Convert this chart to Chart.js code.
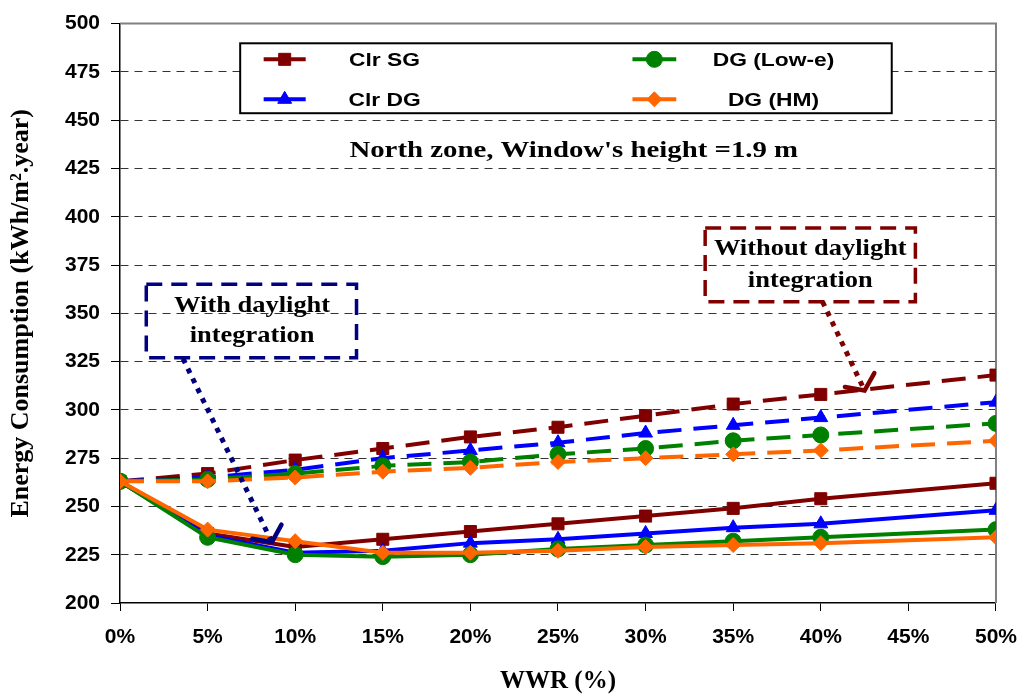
<!DOCTYPE html>
<html>
<head>
<meta charset="utf-8">
<script src="https://cdn.jsdelivr.net/npm/chart.js@4/dist/chart.umd.min.js"></script>
<style>
  html, body { margin: 0; padding: 0; background: #fff; }
  #wrap { width: 1031px; height: 697px; position: relative; }
</style>
</head>
<body>
<div id="wrap"><canvas id="grafico"></canvas></div>
<script>
// WWR values that carry a marker
const wwr = [0, 5, 10, 15, 20, 25, 30, 35, 40, 50];

// with daylight integration (solid lines)
const clrSgDl = [263, 236, 229, 233, 237, 241, 245, 249, 254, 262];
const clrDgDl = [263, 235, 226, 227, 231, 233, 236, 239, 241, 248];
const lowEDl  = [263, 234, 225, 224, 225, 228, 230, 232, 234, 238];
const hmDl    = [263, 238, 232, 226, 226, 227, 229, 230, 231, 234];

// without daylight integration (dashed lines)
const clrSgNoDl = [263, 267, 274, 280, 286, 291, 297, 303, 308, 318];
const clrDgNoDl = [263, 265, 269, 275, 279, 283, 288, 292, 296, 304];
const lowENoDl  = [263, 264, 267, 271, 273, 277, 280, 284, 287, 293];
const hmNoDl    = [263, 263, 265, 268, 270, 273, 275, 277, 279, 284];

const seriesNames = ['Clr SG', 'Clr DG', 'DG (Low-e)', 'DG (HM)'];
const yTicks = [200, 225, 250, 275, 300, 325, 350, 375, 400, 425, 450, 475, 500];

const cores = ['#800000', '#0000ff', '#008000', '#ff6600'];
const estilos = ['rect', 'triangle', 'circle', 'rectRot'];
const raios = [8.5, 8, 8, 7.5];

function pontos(valores) {
    return wwr.map((x, i) => ({ x: x, y: valores[i] }));
}

function serie(nome, valores, k, tracejado) {
    return {
        label: nome,
        data: pontos(valores),
        borderColor: cores[k],
        backgroundColor: cores[k],
        borderWidth: 4,
        borderDash: tracejado ? [24, 12] : [],
        pointStyle: estilos[k],
        pointRadius: raios[k],
        pointBorderWidth: 1,
        pointBorderColor: cores[k],
        tension: 0,
        order: 3 - k
    };
}

const datasets = [
    serie(seriesNames[0], clrSgNoDl, 0, true),
    serie(seriesNames[1], clrDgNoDl, 1, true),
    serie(seriesNames[2], lowENoDl, 2, true),
    serie(seriesNames[3], hmNoDl, 3, true),
    serie(seriesNames[0], clrSgDl, 0, false),
    serie(seriesNames[1], clrDgDl, 1, false),
    serie(seriesNames[2], lowEDl, 2, false),
    serie(seriesNames[3], hmDl, 3, false)
];

// texto esticado na horizontal (o original parece esticado)
function texto(ctx, s, x, y, fonte, cor, sx) {
    ctx.save();
    ctx.translate(x, y);
    ctx.scale(sx, 1);
    ctx.font = fonte;
    ctx.fillStyle = cor;
    ctx.textAlign = 'center';
    ctx.textBaseline = 'middle';
    ctx.fillText(s, 0, 0);
    ctx.restore();
}

function seta(ctx, x1, y1, x2, y2, cor) {
    ctx.save();
    ctx.strokeStyle = cor;
    ctx.lineWidth = 5;
    ctx.setLineDash([5, 6]);
    ctx.beginPath();
    ctx.moveTo(x1, y1);
    ctx.lineTo(x2, y2);
    ctx.stroke();
    const ang = Math.atan2(y1 - y2, x1 - x2);
    ctx.setLineDash([]);
    ctx.lineWidth = 4.5;
    ctx.lineCap = 'round';
    ctx.beginPath();
    ctx.moveTo(x2 + Math.cos(ang - 0.95) * 20, y2 + Math.sin(ang - 0.95) * 20);
    ctx.lineTo(x2, y2);
    ctx.lineTo(x2 + Math.cos(ang + 0.95) * 20, y2 + Math.sin(ang + 0.95) * 20);
    ctx.stroke();
    ctx.restore();
}

function caixa(ctx, x1, y1, x2, y2, cor) {
    ctx.save();
    ctx.strokeStyle = cor;
    ctx.lineWidth = 3.5;
    ctx.setLineDash([16, 9]);
    ctx.strokeRect(x1, y1, x2 - x1, y2 - y1);
    ctx.restore();
}

const desenhos = {
    id: 'desenhos',
    beforeDatasetsDraw(chart) {
        const a = chart.chartArea;
        const ctx = chart.ctx;
        ctx.save();
        ctx.strokeStyle = '#808080';
        ctx.lineWidth = 2;
        ctx.beginPath();
        ctx.moveTo(a.left, a.top);
        ctx.lineTo(a.right, a.top);
        ctx.lineTo(a.right, a.bottom);
        ctx.stroke();
        ctx.restore();
    },
    afterDraw(chart) {
        const ctx = chart.ctx;
        const sx = chart.scales.x, sy = chart.scales.y;
        const px = v => sx.getPixelForValue(v);
        const py = v => sy.getPixelForValue(v);
        const serif = 'bold 23px "Liberation Serif", "Times New Roman", serif';
        const sans = 'bold 19px "Liberation Sans", Arial, sans-serif';

        // legenda
        ctx.save();
        ctx.fillStyle = '#fff';
        ctx.fillRect(px(6.86), py(489.8), px(44.05) - px(6.86), py(453.6) - py(489.8));
        ctx.strokeStyle = '#000';
        ctx.lineWidth = 2;
        ctx.strokeRect(px(6.86), py(489.8), px(44.05) - px(6.86), py(453.6) - py(489.8));
        ctx.restore();
        const leg = [
            { k: 0, x1: 8.2, x2: 10.6, xt: 15.1, y: 481.5 },
            { k: 1, x1: 8.2, x2: 10.6, xt: 15.1, y: 460.8 },
            { k: 2, x1: 29.25, x2: 31.75, xt: 37.3, y: 481.5 },
            { k: 3, x1: 29.25, x2: 31.75, xt: 37.3, y: 460.8 }
        ];
        leg.forEach(e => {
            const y = py(e.y);
            ctx.save();
            ctx.strokeStyle = cores[e.k];
            ctx.fillStyle = cores[e.k];
            ctx.lineWidth = 4;
            ctx.beginPath();
            ctx.moveTo(px(e.x1), y);
            ctx.lineTo(px(e.x2), y);
            ctx.stroke();
            ctx.lineWidth = 1;
            Chart.helpers.drawPoint(ctx, { pointStyle: estilos[e.k], radius: raios[e.k], rotation: 0, borderWidth: 1 },
                (px(e.x1) + px(e.x2)) / 2, y);
            ctx.restore();
            texto(ctx, seriesNames[e.k], px(e.xt), y + 1, sans, '#000', 1.2);
        });

        texto(ctx, "North zone, Window's height =1.9 m", px(25.9), py(434),
            'bold 24px "Liberation Serif", "Times New Roman", serif', '#000', 1.2);

        // com iluminação natural
        caixa(ctx, px(1.5), py(365), px(13.5), py(327), '#000080');
        texto(ctx, 'With daylight', px(7.54), py(353.9), serif, '#000', 1.15);
        texto(ctx, 'integration', px(7.54), py(338.4), serif, '#000', 1.15);
        seta(ctx, px(3.6), py(326.5), px(8.67), py(231.5), '#000080');

        // sem iluminação natural
        caixa(ctx, px(33.4), py(394.2), px(45.4), py(356), '#800000');
        texto(ctx, 'Without daylight', px(39.4), py(383.4), serif, '#000', 1.15);
        texto(ctx, 'integration', px(39.4), py(366.8), serif, '#000', 1.15);
        seta(ctx, px(40.1), py(356), px(42.5), py(310), '#800000');
    }
};

const ctxGrafico = document.getElementById('grafico').getContext('2d');
const grafico = new Chart(ctxGrafico, {
    type: 'line',
    data: { datasets: datasets },
    plugins: [desenhos],
    options: {
        responsive: true,
        maintainAspectRatio: false,
        animation: false,
        layout: { padding: { top: 22, right: 29, left: 0, bottom: 0 } },
        plugins: {
            legend: { display: false },
            tooltip: { enabled: false }
        },
        scales: {
            x: {
                type: 'linear',
                min: 0,
                max: 50,
                ticks: {
                    stepSize: 5,
                    callback: v => v + '%',
                    color: '#000',
                    padding: 14,
                    maxRotation: 0,
                    font: { family: '"Liberation Sans", Arial, sans-serif', size: 21, weight: 'bold' }
                },
                grid: { drawOnChartArea: false, drawTicks: true, tickLength: 8, color: '#000' },
                border: { display: true, color: '#000', width: 1.5 },
                title: {
                    display: true,
                    text: 'WWR (%)',
                    color: '#000',
                    padding: { top: 0, bottom: 0 },
                    font: { family: '"Liberation Serif", "Times New Roman", serif', size: 25, weight: 'bold' }
                },
                afterFit: s => { s.height = 94; }
            },
            y: {
                min: 200,
                max: 500,
                afterBuildTicks: s => { s.ticks = yTicks.map(v => ({ value: v })); },
                ticks: {
                    color: '#000',
                    padding: 11,
                    font: { family: '"Liberation Sans", Arial, sans-serif', size: 21, weight: 'bold' }
                },
                grid: {
                    color: c => (c.tick && (c.tick.value === 200 || c.tick.value === 500)) ? 'rgba(0,0,0,0)' : '#333',
                    lineWidth: 1,
                    tickLength: 9,
                    tickColor: '#000',
                    tickBorderDash: []
                },
                border: { display: true, color: '#000', width: 1.5, dash: [8, 6] },
                title: {
                    display: true,
                    text: 'Energy Consumption (kWh/m\u00b2.year)',
                    color: '#000',
                    padding: { top: 6, bottom: 0 },
                    font: { family: '"Liberation Serif", "Times New Roman", serif', size: 26, weight: 'bold' }
                },
                afterFit: s => { s.width = 120; }
            }
        }
    }
});
</script>
</body>
</html>
